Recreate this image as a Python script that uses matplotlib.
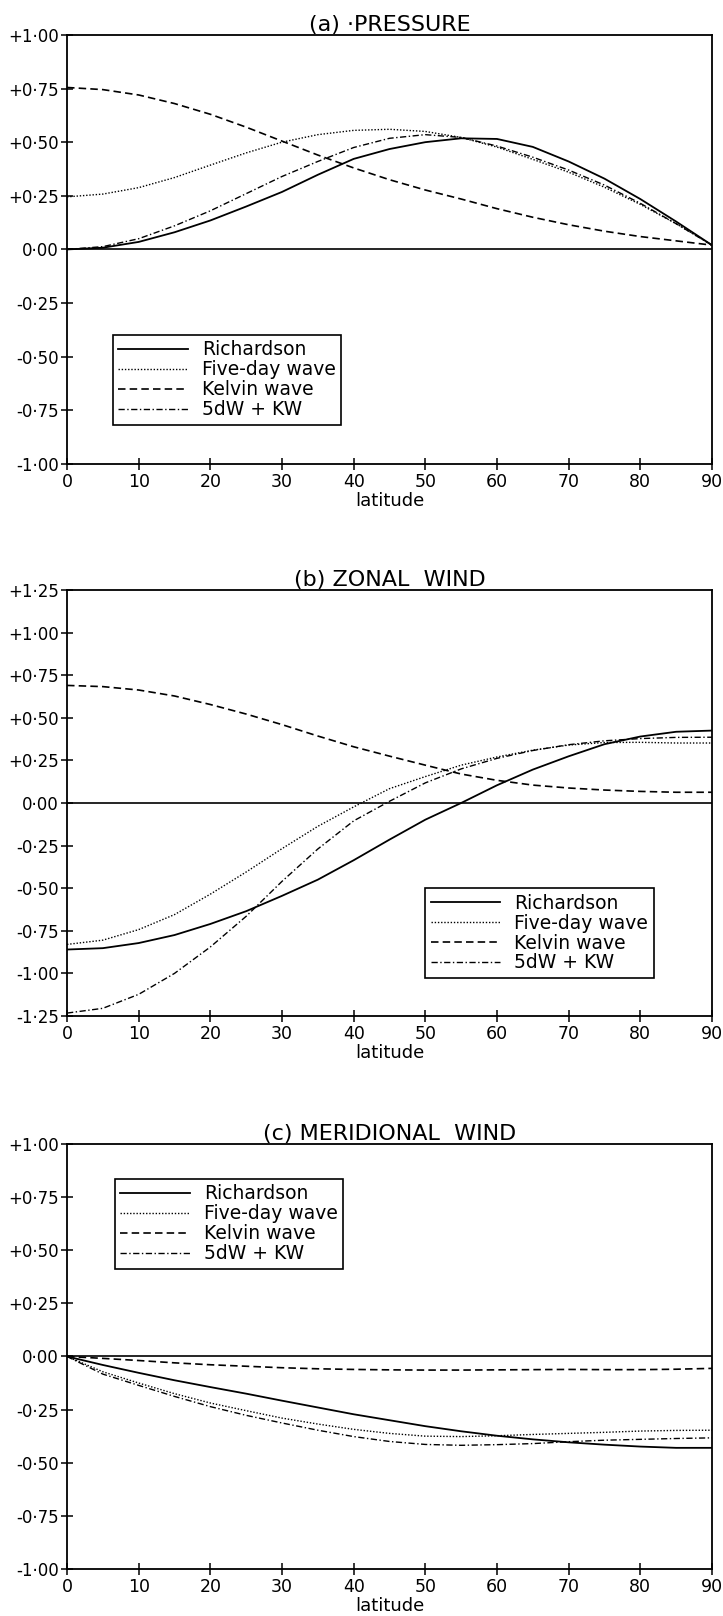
"""
    Three panels: pressure, zonal wind and meridional wind against latitude
    for Richardson, the five-day wave, the Kelvin wave and 5dW + KW.
"""

import numpy as np
import matplotlib
matplotlib.use("Agg")
import matplotlib.pyplot as plt

# latitude, every 5 degrees
latitude = [0, 5, 10, 15, 20, 25, 30, 35, 40, 45, 50, 55, 60, 65, 70, 75, 80, 85, 90]

# (a) pressure
pres_richardson = [0.0, 0.008, 0.035, 0.08, 0.135, 0.20, 0.268, 0.348, 0.422, 0.468, 0.50, 0.518,
                   0.515, 0.478, 0.41, 0.33, 0.235, 0.13, 0.02]
pres_fiveday = [0.245, 0.258, 0.288, 0.335, 0.393, 0.45, 0.50, 0.535, 0.555, 0.56, 0.55, 0.522,
                0.477, 0.42, 0.36, 0.29, 0.21, 0.12, 0.02]
pres_kelvin = [0.755, 0.745, 0.72, 0.68, 0.63, 0.57, 0.505, 0.44, 0.38, 0.325, 0.277, 0.235,
               0.19, 0.15, 0.115, 0.085, 0.06, 0.04, 0.02]
pres_5dwkw = [0.0, 0.013, 0.05, 0.11, 0.18, 0.26, 0.34, 0.41, 0.475, 0.518, 0.535, 0.522,
              0.482, 0.43, 0.37, 0.30, 0.215, 0.12, 0.02]

# (b) zonal wind
zon_richardson = [-0.86, -0.852, -0.822, -0.775, -0.71, -0.635, -0.545, -0.45, -0.336, -0.215, -0.098, 0.0,
                  0.104, 0.196, 0.274, 0.345, 0.39, 0.418, 0.425]
zon_fiveday = [-0.83, -0.805, -0.743, -0.655, -0.535, -0.405, -0.268, -0.137, -0.023, 0.084, 0.155, 0.222,
               0.27, 0.31, 0.34, 0.355, 0.356, 0.352, 0.352]
zon_kelvin = [0.69, 0.683, 0.663, 0.628, 0.578, 0.522, 0.46, 0.393, 0.33, 0.275, 0.222, 0.17,
              0.133, 0.105, 0.088, 0.076, 0.068, 0.063, 0.063]
zon_5dwkw = [-1.233, -1.205, -1.123, -1.0, -0.845, -0.665, -0.46, -0.27, -0.105, 0.01, 0.118, 0.20,
             0.262, 0.308, 0.342, 0.365, 0.378, 0.385, 0.386]

# (c) meridional wind
mer_richardson = [0.0, -0.04, -0.077, -0.112, -0.144, -0.175, -0.208, -0.24, -0.272, -0.30, -0.328, -0.352,
                  -0.373, -0.39, -0.404, -0.415, -0.424, -0.43, -0.43]
mer_fiveday = [0.0, -0.072, -0.125, -0.175, -0.219, -0.255, -0.29, -0.318, -0.343, -0.362, -0.375, -0.377,
               -0.373, -0.367, -0.362, -0.357, -0.351, -0.348, -0.347]
mer_kelvin = [0.0, -0.009, -0.019, -0.03, -0.039, -0.046, -0.053, -0.058, -0.061, -0.063, -0.064, -0.064,
              -0.063, -0.062, -0.061, -0.062, -0.062, -0.06, -0.056]
mer_5dwkw = [0.0, -0.083, -0.136, -0.188, -0.236, -0.277, -0.313, -0.347, -0.377, -0.40, -0.414, -0.418,
             -0.415, -0.41, -0.401, -0.394, -0.39, -0.386, -0.383]

series_names = ["Richardson", "Five-day wave", "Kelvin wave", "5dW + KW"]
xticks = [0, 10, 20, 30, 40, 50, 60, 70, 80, 90]

panels = [
    {"title": "(a) \u00b7PRESSURE", "ylim": (-1.0, 1.0),
     "data": [pres_richardson, pres_fiveday, pres_kelvin, pres_5dwkw]},
    {"title": "(b) ZONAL  WIND", "ylim": (-1.25, 1.25),
     "data": [zon_richardson, zon_fiveday, zon_kelvin, zon_5dwkw]},
    {"title": "(c) MERIDIONAL  WIND", "ylim": (-1.0, 1.0),
     "data": [mer_richardson, mer_fiveday, mer_kelvin, mer_5dwkw]},
]

LINESTYLES = ["-", (0, (1, 1.3)), (0, (4.5, 2.5)), (0, (4.5, 1.8, 1, 1.8))]
LINEWIDTHS = [1.3, 1.0, 1.2, 1.0]


def ylabelfmt(v):
    # plotter style: +0.75 -> "+0·75", zero without sign
    if abs(v) < 1e-9:
        s = "0.00"
    else:
        s = f"{v:+.2f}"
    return s.replace(".", "\u00b7")


def main():
    plt.rcParams['font.family'] = ['DejaVu Sans']
    fig = plt.figure(figsize=(7.23, 16.16), dpi=100)

    # axes boxes in figure fraction (left, bottom, width, height)
    boxes = [(0.0927, 0.7129, 0.892, 0.2655),
             (0.0927, 0.3713, 0.892, 0.2636),
             (0.0927, 0.0291, 0.892, 0.2630)]
    # legend anchors in axes fraction
    legloc = [("lower left", (0.071, 0.091)),
              ("lower left", (0.555, 0.089)),
              ("upper left", (0.074, 0.918))]

    for p, box, (loc, anchor) in zip(panels, boxes, legloc):
        ax = fig.add_axes(box)
        for vals, name, ls, lw in zip(p["data"], series_names, LINESTYLES, LINEWIDTHS):
            ax.plot(latitude, vals, color="black", linestyle=ls, linewidth=lw, label=name)
        ax.axhline(0.0, color="black", linewidth=1.2, zorder=1)

        ax.set_xlim(0, 90)
        ax.set_ylim(*p["ylim"])
        ax.set_xticks(xticks)
        ax.set_xticklabels([str(t) for t in xticks])
        yt = np.arange(p["ylim"][0], p["ylim"][1] + 0.001, 0.25)
        ax.set_yticks(yt)
        ax.set_yticklabels([ylabelfmt(v) for v in yt])
        ax.tick_params(axis="both", direction="inout", length=9, width=1.1,
                       labelsize=12, pad=1.5, colors="black")
        ax.tick_params(axis="x", pad=2, labelsize=12.5)
        for sp in ax.spines.values():
            sp.set_linewidth(1.3)
            sp.set_color("black")

        ax.set_title(p["title"], fontsize=16, pad=2)
        ax.set_xlabel("latitude", fontsize=13, labelpad=1)

        leg = ax.legend(loc=loc, bbox_to_anchor=anchor, borderaxespad=0, fontsize=13.5,
                        fancybox=False, framealpha=1, edgecolor="black",
                        handlelength=3.7, handletextpad=0.75, borderpad=0.3,
                        labelspacing=0.05)
        leg.get_frame().set_linewidth(1.2)

    fig.savefig("out.png", dpi=100)


if __name__ == '__main__':
    main()
